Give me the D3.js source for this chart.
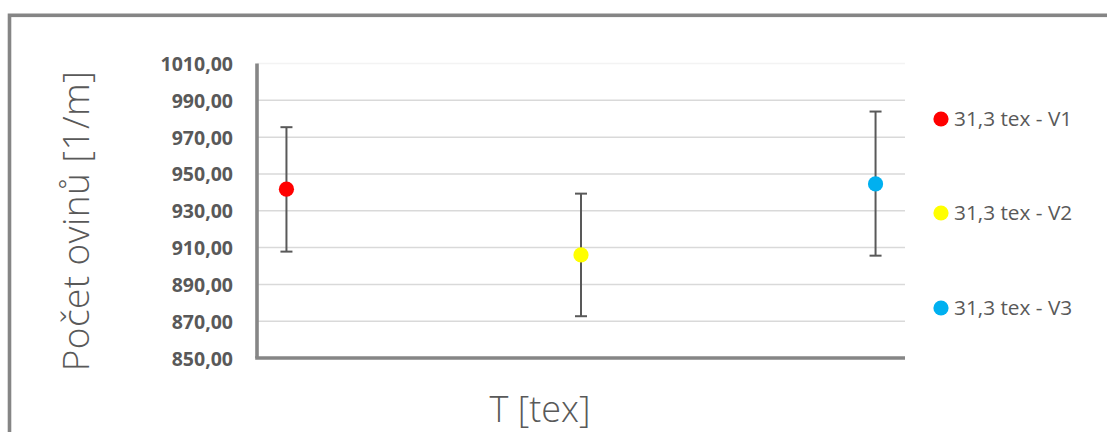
<!DOCTYPE html>
<html>
<head>
<meta charset="utf-8">
<script src="https://cdn.jsdelivr.net/npm/d3@7"></script>
<style>
  html, body { margin: 0; padding: 0; background: #fff; }
  svg { display: block; }
</style>
</head>
<body>
<svg id="chart" width="1107" height="432"></svg>
<script>
// ---- data ----
const seriesNames = ["31,3 tex - V1", "31,3 tex - V2", "31,3 tex - V3"];
const xValues = [1, 2, 3];
const meanValues = [941.7, 906.0, 944.6];
const lowValues = [907.8, 872.7, 905.6];
const highValues = [975.4, 939.3, 983.9];
const seriesColors = ["#FF0000", "#FFFF00", "#00B0F0"];
const yTickValues = [850, 870, 890, 910, 930, 950, 970, 990, 1010];
const yTitle = "Počet ovinů [1/m]";
const xTitle = "T [tex]";

// ---- layout ----
const svg = d3.select("#chart");
const plot = { left: 257, right: 905, top: 63.5, bottom: 358 };
const textColor = "#595959";

const x = d3.scaleLinear().domain([0.9, 3.1]).range([plot.left, plot.right]);
const y = d3.scaleLinear().domain([850, 1010]).range([plot.bottom, plot.top]);
const fmt = v => d3.format(".2f")(v).replace(".", ",");

// outer chart border (cropped on right/bottom)
svg.append("rect")
  .attr("x", 9.5).attr("y", 15.3)
  .attr("width", 1300).attr("height", 600)
  .attr("fill", "none")
  .attr("stroke", "#858585")
  .attr("stroke-width", 3.6);

// gridlines
svg.append("g")
  .selectAll("line")
  .data(yTickValues)
  .join("line")
  .attr("x1", plot.left).attr("x2", plot.right)
  .attr("y1", d => y(d)).attr("y2", d => y(d))
  .attr("stroke", d => d === 1010 ? "#f3f3f3" : "#d9d9d9")
  .attr("stroke-width", 1.5);

// y axis with tick labels
const yAxis = d3.axisLeft(y).tickValues(yTickValues).tickFormat(fmt).tickSize(0).tickPadding(24);
const gy = svg.append("g").attr("transform", `translate(${plot.left},0)`).call(yAxis);
gy.select(".domain").remove();
gy.selectAll("text")
  .attr("fill", textColor)
  .attr("font-family", "'Open Sans', sans-serif")
  .attr("font-weight", 700)
  .attr("font-size", 19.5)
  .attr("dy", "0.36em");

// axis lines
svg.append("line")
  .attr("x1", plot.left).attr("x2", plot.left)
  .attr("y1", plot.top).attr("y2", plot.bottom)
  .attr("stroke", "#868686").attr("stroke-width", 3.6);
svg.append("line")
  .attr("x1", plot.left - 1.8).attr("x2", plot.right)
  .attr("y1", plot.bottom).attr("y2", plot.bottom)
  .attr("stroke", "#868686").attr("stroke-width", 3.6);

// error bars
const eb = svg.append("g").attr("stroke", "#595959").attr("stroke-width", 2);
xValues.forEach((xv, i) => {
  const cx = x(xv);
  eb.append("line").attr("x1", cx).attr("x2", cx).attr("y1", y(lowValues[i])).attr("y2", y(highValues[i]));
  eb.append("line").attr("x1", cx - 6).attr("x2", cx + 6).attr("y1", y(lowValues[i])).attr("y2", y(lowValues[i]));
  eb.append("line").attr("x1", cx - 6).attr("x2", cx + 6).attr("y1", y(highValues[i])).attr("y2", y(highValues[i]));
});

// points
svg.append("g")
  .selectAll("circle")
  .data(xValues)
  .join("circle")
  .attr("cx", d => x(d))
  .attr("cy", (d, i) => y(meanValues[i]))
  .attr("r", 7.6)
  .attr("fill", (d, i) => seriesColors[i]);

// legend
const legendY = [119, 213, 308];
const lg = svg.append("g");
seriesNames.forEach((name, i) => {
  lg.append("circle").attr("cx", 941).attr("cy", legendY[i]).attr("r", 7.6).attr("fill", seriesColors[i]);
  lg.append("text")
    .attr("x", 954).attr("y", legendY[i])
    .attr("dy", "0.36em")
    .attr("fill", textColor)
    .attr("font-family", "'Open Sans', sans-serif")
    .attr("font-size", 20.8)
    .text(name);
});

// axis titles
svg.append("text")
  .attr("transform", "translate(89,221) rotate(-90)")
  .attr("text-anchor", "middle")
  .attr("fill", textColor)
  .attr("font-family", "'Open Sans', sans-serif")
  .attr("font-weight", 300)
  .attr("font-size", 37)
  .attr("letter-spacing", 0.4)
  .text(yTitle);

svg.append("text")
  .attr("x", 540).attr("y", 422)
  .attr("text-anchor", "middle")
  .attr("fill", textColor)
  .attr("font-family", "'Open Sans', sans-serif")
  .attr("font-weight", 300)
  .attr("font-size", 36)
  .text(xTitle);
</script>
</body>
</html>
